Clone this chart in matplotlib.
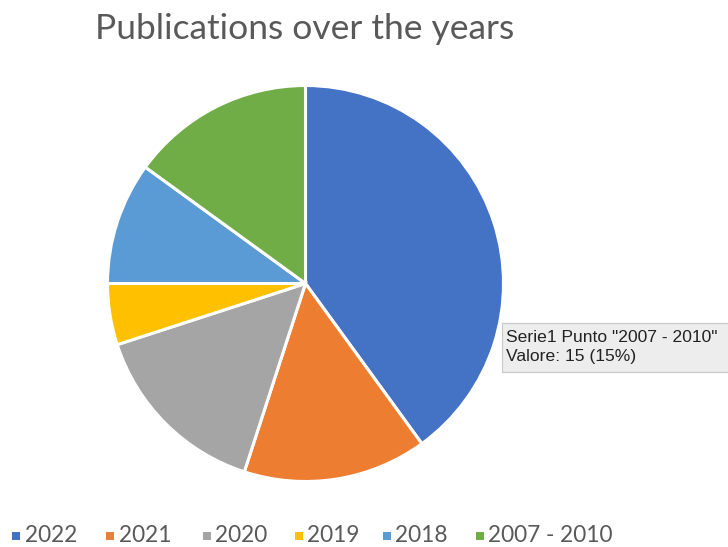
import matplotlib.pyplot as plt
from matplotlib.patches import FancyBboxPatch, Rectangle

# publications per period
labels = ["2022", "2021", "2020", "2019", "2018", "2007 - 2010"]
counts = [40, 15, 15, 5, 10, 15]
colors = ["#4472C4", "#ED7D31", "#A5A5A5", "#FFC000", "#5B9BD5", "#70AD47"]

W, H = 728, 547
fig = plt.figure(figsize=(W / 100, H / 100), dpi=100)

# pie area in pixels
cx, cy, r = 305.5, 283.5, 198
ax = fig.add_axes([(cx - r) / W, (H - cy - r) / H, 2 * r / W, 2 * r / H])
ax.pie(counts, colors=colors, startangle=90, counterclock=False,
       wedgeprops=dict(edgecolor="white", linewidth=2.2))
ax.set_xlim(-1.0, 1.0)
ax.set_ylim(-1.0, 1.0)
ax.set_aspect("equal")

fig.text(305 / W, 1 - 29 / H, "Publications over the years",
         ha="center", va="center", fontsize=25.5, color="#595959",
         family="Lato")

# legend row along the bottom, laid out in pixels
legend_x = [12, 106, 203, 295, 383, 476]
sq = 8
for x, lab, c in zip(legend_x, labels, colors):
    fig.patches.append(Rectangle((x / W, 1 - (536 + sq / 2) / H), sq / W, sq / H,
                                 transform=fig.transFigure, facecolor=c,
                                 edgecolor="none"))
    fig.text((x + sq + 4.5) / W, 1 - 536 / H, lab, ha="left", va="center",
             fontsize=16.3, color="#595959", family="Lato")

# hover tooltip
tip = FancyBboxPatch((502 / W, 1 - 372 / H), 240 / W, 49 / H,
                     boxstyle="square,pad=0", transform=fig.transFigure,
                     facecolor="#EDEDED", edgecolor="#C8C8C8", linewidth=0.8)
fig.patches.append(tip)
fig.text(506 / W, 1 - 338 / H, 'Serie1 Punto "2007 - 2010"', fontsize=12.6,
         color="#222222", family="Liberation Sans", va="center")
fig.text(506 / W, 1 - 357 / H, "Valore: 15 (15%)", fontsize=12.6,
         color="#222222", family="Liberation Sans", va="center")

fig.savefig("out.png", dpi=100, facecolor="white")
